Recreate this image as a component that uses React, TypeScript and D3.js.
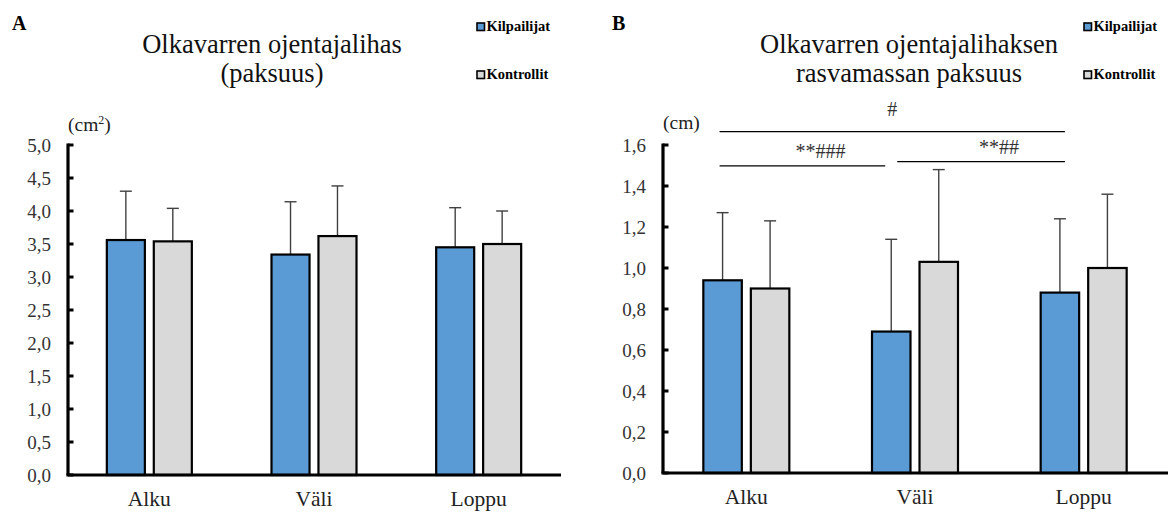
import React from 'react';
import * as d3 from 'd3';

const categories = ['Alku', 'Väli', 'Loppu'];
const series = ['Kilpailijat', 'Kontrollit'];

// panel A: olkavarren ojentajalihas (cm2)
const muscleMean = [
  [3.56, 3.34, 3.45],
  [3.54, 3.62, 3.5],
];
const muscleSd = [
  [0.74, 0.8, 0.6],
  [0.5, 0.76, 0.5],
];

// panel B: rasvamassan paksuus (cm)
const fatMean = [
  [0.94, 0.69, 0.88],
  [0.9, 1.03, 1.0],
];
const fatSd = [
  [0.33, 0.45, 0.36],
  [0.33, 0.45, 0.36],
];

const fatSignif = [
  { from: 'Alku', to: 'Loppu', level: 1.665, label: '#' },
  { from: 'Alku', to: 'Väli', level: 1.498, label: '**###' },
  { from: 'Väli', to: 'Loppu', level: 1.519, label: '**##' },
];

const colors = ['#5b9bd5', '#d9d9d9'];
const serif = '"Liberation Serif", "Times New Roman", serif';
const comma = (v: number) => d3.format('.1f')(v).replace('.', ',');

type PanelProps = {
  letter: string;
  letterX: number;
  title: string[];
  titleX: number;
  legendX: number;
  unit: string;
  unitSup?: string;
  unitY: number;
  mean: number[][];
  sd: number[][];
  xRange: [number, number];
  yMax: number;
  yRange: [number, number];
  tickCount: number;
  groupW: number;
  signif?: { from: string; to: string; level: number; label: string }[];
};

function Panel(p: PanelProps) {
  const x0 = d3.scaleBand<string>().domain(categories).range(p.xRange);
  const x1 = d3
    .scaleBand<string>()
    .domain(series)
    .range([0, p.groupW])
    .paddingInner(0.19);
  const y = d3.scaleLinear().domain([0, p.yMax]).range(p.yRange);
  const ticks = y.ticks(p.tickCount);
  const axisX = p.xRange[0] + 1;
  const groupStart = (c: string) => x0(c)! + x0.bandwidth() / 2 - p.groupW / 2;
  const blueCenter = (c: string) => groupStart(c) + x1('Kilpailijat')! + x1.bandwidth() / 2;

  return (
    <g>
      <text x={p.letterX} y={30} fontFamily={serif} fontWeight="bold" fontSize={20}>
        {p.letter}
      </text>
      {p.title.map((t, i) => (
        <text
          key={i}
          x={p.titleX}
          y={53 + i * 29}
          textAnchor="middle"
          fontFamily={serif}
          fontSize={26.5}
          fill="#111"
        >
          {t}
        </text>
      ))}
      {series.map((s, i) => (
        <g key={s} transform={`translate(${p.legendX},${31 + i * 48})`}>
          <rect x={0} y={-8} width={7.5} height={7.5} fill={colors[i]} stroke="#000" strokeWidth={1.6} />
          <text x={9.5} y={0} fontFamily={serif} fontWeight="bold" fontSize={14.5}>
            {s}
          </text>
        </g>
      ))}
      <text x={axisX} y={p.unitY} fontFamily={serif} fontSize={19.5} fill="#222">
        {p.unit}
        {p.unitSup && (
          <tspan fontSize={12} dy={-7}>
            {p.unitSup}
          </tspan>
        )}
        {p.unitSup && <tspan dy={7}>)</tspan>}
      </text>

      {/* bars */}
      {categories.map((c, ci) =>
        series.map((s, si) => {
          const bx = groupStart(c) + x1(s)!;
          const bw = x1.bandwidth();
          const top = y(p.mean[si][ci]);
          const errTop = y(p.mean[si][ci] + p.sd[si][ci]);
          const cx = bx + bw / 2;
          return (
            <g key={c + s}>
              <line x1={cx} x2={cx} y1={top} y2={errTop} stroke="#404040" strokeWidth={1.4} />
              <line x1={cx - 6} x2={cx + 6} y1={errTop} y2={errTop} stroke="#404040" strokeWidth={1.4} />
              <rect
                x={bx}
                y={top}
                width={bw}
                height={y(0) - top}
                fill={colors[si]}
                stroke="#000"
                strokeWidth={2.2}
              />
            </g>
          );
        })
      )}

      {/* y axis */}
      <line x1={axisX} x2={axisX} y1={y(p.yMax) - 1.5} y2={y(0)} stroke="#000" strokeWidth={3.2} />
      {ticks.map((t) => (
        <g key={t}>
          <line x1={axisX} x2={axisX + 5.5} y1={y(t)} y2={y(t)} stroke="#000" strokeWidth={3} />
          <text
            x={axisX - 17}
            y={y(t) + 6.5}
            textAnchor="end"
            fontFamily={serif}
            fontSize={19}
            fill="#333"
          >
            {comma(t)}
          </text>
        </g>
      ))}
      {/* x axis */}
      <line x1={axisX - 1.6} x2={p.xRange[1]} y1={y(0)} y2={y(0)} stroke="#000" strokeWidth={3.2} />
      {categories.map((c) => (
        <text
          key={c}
          x={x0(c)! + x0.bandwidth() / 2}
          y={y(0) + 31}
          textAnchor="middle"
          fontFamily={serif}
          fontSize={21.5}
          fill="#222"
        >
          {c}
        </text>
      ))}

      {/* significance */}
      {p.signif &&
        p.signif.map((s, i) => {
          const xa = blueCenter(s.from) + (s.from === 'Väli' ? 6 : -3);
          const xb = blueCenter(s.to) + (s.to === 'Väli' ? -6 : 5);
          const ly = y(s.level);
          return (
            <g key={i}>
              <line x1={xa} x2={xb} y1={ly} y2={ly} stroke="#000" strokeWidth={1.3} />
              <text
                x={(xa + xb) / 2 + (i === 0 ? 0 : 18)}
                y={ly - (i === 0 ? 16 : 8)}
                textAnchor="middle"
                fontFamily={serif}
                fontSize={20}
                fill="#333"
              >
                {s.label}
              </text>
            </g>
          );
        })}
    </g>
  );
}

export default function App() {
  return (
    <svg
      width={1170}
      height={514}
      style={{ position: 'absolute', left: 0, top: 0, background: '#fff' }}
    >
      <rect width={1170} height={514} fill="#fff" />
      <Panel
        letter="A"
        letterX={12}
        title={['Olkavarren ojentajalihas', '(paksuus)']}
        titleX={272}
        legendX={477}
        unit="(cm"
        unitSup="2"
        unitY={131}
        mean={muscleMean}
        sd={muscleSd}
        xRange={[67, 561]}
        yMax={5}
        yRange={[475, 145]}
        tickCount={10}
        groupW={85}
      />
      <Panel
        letter="B"
        letterX={612}
        title={['Olkavarren ojentajalihaksen', 'rasvamassan paksuus']}
        titleX={909}
        legendX={1084}
        unit="(cm)"
        unitY={129}
        mean={fatMean}
        sd={fatSd}
        xRange={[662, 1168]}
        yMax={1.6}
        yRange={[473, 145]}
        tickCount={8}
        groupW={86}
        signif={fatSignif}
      />
    </svg>
  );
}
